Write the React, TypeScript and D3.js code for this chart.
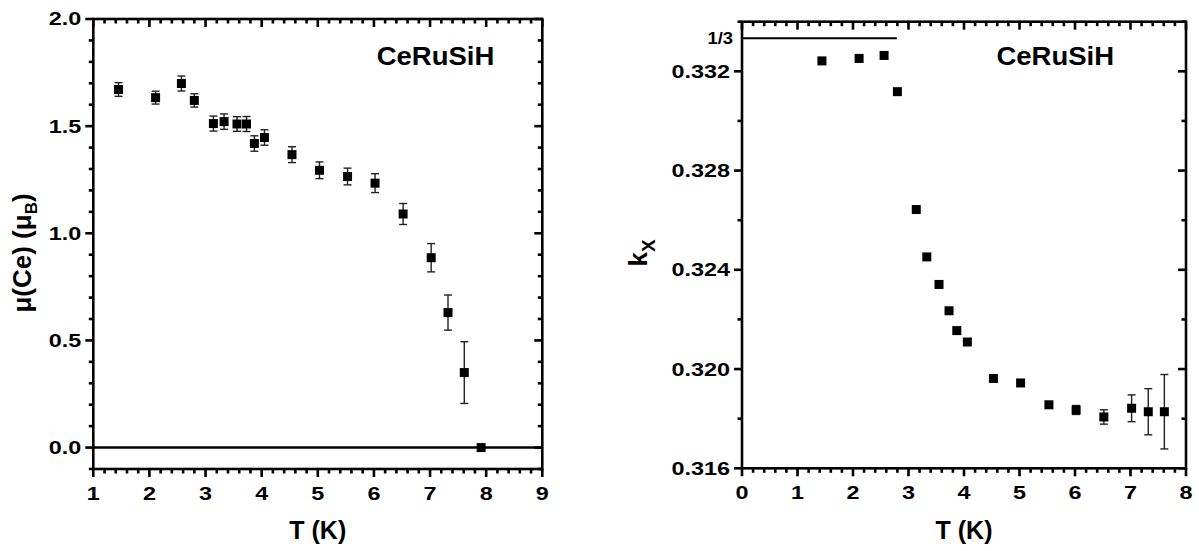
import React from "react";
import * as d3 from "d3";

// ---- Left panel data: magnetic moment of Ce vs temperature ----
const leftT = [1.45, 2.11, 2.57, 2.8, 3.14, 3.33, 3.56, 3.73, 3.87, 4.05, 4.54, 5.03, 5.53, 6.02, 6.52, 7.02, 7.32, 7.61, 7.91];
const leftMu = [1.671, 1.633, 1.699, 1.62, 1.512, 1.521, 1.51, 1.51, 1.419, 1.447, 1.367, 1.294, 1.265, 1.234, 1.09, 0.886, 0.63, 0.35, 0.0];
const leftErr = [0.032, 0.03, 0.035, 0.031, 0.035, 0.036, 0.034, 0.035, 0.036, 0.036, 0.037, 0.039, 0.039, 0.044, 0.049, 0.066, 0.082, 0.144, 0];

// ---- Right panel data: propagation vector component kx vs temperature ----
const rightT = [1.44, 2.11, 2.56, 2.8, 3.14, 3.33, 3.55, 3.73, 3.87, 4.06, 4.53, 5.02, 5.53, 6.02, 6.52, 7.02, 7.32, 7.61];
const rightK = [0.33242, 0.33252, 0.33264, 0.33118, 0.32643, 0.32452, 0.32341, 0.32235, 0.32155, 0.32109, 0.31962, 0.31944, 0.31856, 0.31835, 0.31807, 0.31842, 0.31828, 0.31828];
const rightErr = [0, 0, 0, 0, 0, 0, 0, 0, 0, 0, 0, 0, 0, 0.00018, 0.00029, 0.00054, 0.00093, 0.0015];

const leftXTicks = [1, 2, 3, 4, 5, 6, 7, 8, 9];
const leftYTicks = [0.0, 0.5, 1.0, 1.5, 2.0];
const rightXTicks = [0, 1, 2, 3, 4, 5, 6, 7, 8];
const rightYTicks = [0.316, 0.32, 0.324, 0.328, 0.332];
const sampleName = "CeRuSiH";
const oneThird = 1 / 3;
const oneThirdEndT = 2.79;

const FONT = "'Liberation Sans', Arial, Helvetica, sans-serif";
const MAJ = 8;
const MIN = 4.5;
const TW = 2.6;

function steps(a: number, b: number, step: number) {
  const n = Math.round((b - a) / step);
  const out: number[] = [];
  for (let i = 0; i <= n; i++) out.push(+(a + i * step).toFixed(6));
  return out;
}

function SText({ x, y, s, anchor, size, children, dy }: any) {
  return (
    <g transform={`translate(${x},${y}) scale(${s},1)`}>
      <text x={0} y={0} dy={dy || 0} textAnchor={anchor} fontFamily={FONT} fontWeight="bold" fontSize={size} fill="#000">
        {children}
      </text>
    </g>
  );
}

type PanelProps = {
  x: d3.ScaleLinear<number, number>;
  y: d3.ScaleLinear<number, number>;
  xMajor: number[];
  xMinor: number[];
  yMajor: number[];
  yMinor: number[];
  yFmt: (v: number) => string;
  xs: number[];
  ys: number[];
  errs: number[];
  nameRight: number;
};

function Panel({ x, y, xMajor, xMinor, yMajor, yMinor, yFmt, xs, ys, errs, nameRight }: PanelProps) {
  const [x0, x1] = x.range();
  const [yb, yt] = y.range();
  const isMaj = (arr: number[], v: number) => arr.some((m) => Math.abs(m - v) < 1e-9);
  const ms = 9;
  return (
    <g>
      {xs.map((t, i) =>
        errs[i] > 0 ? (
          <g key={"e" + i} stroke="#222" strokeWidth={1.4}>
            <line x1={x(t)} x2={x(t)} y1={y(ys[i] - errs[i])} y2={y(ys[i] + errs[i])} />
            <line x1={x(t) - 4} x2={x(t) + 4} y1={y(ys[i] - errs[i])} y2={y(ys[i] - errs[i])} />
            <line x1={x(t) - 4} x2={x(t) + 4} y1={y(ys[i] + errs[i])} y2={y(ys[i] + errs[i])} />
          </g>
        ) : null
      )}
      {xs.map((t, i) => (
        <rect key={"m" + i} x={x(t) - ms / 2} y={y(ys[i]) - ms / 2} width={ms} height={ms} fill="#000" />
      ))}
      <rect x={x0} y={yt} width={x1 - x0} height={yb - yt} fill="none" stroke="#000" strokeWidth={2.6} />
      {/* ticks as filled bars: bottom/left outward, top/right inward */}
      {xMinor.map((v, i) => {
        const L = isMaj(xMajor, v) ? MAJ : MIN;
        return (
          <g key={"xt" + i} fill="#000">
            <rect x={x(v) - TW / 2} y={yb} width={TW} height={L} />
            <rect x={x(v) - TW / 2} y={yt} width={TW} height={L} />
          </g>
        );
      })}
      {yMinor.map((v, i) => {
        const L = isMaj(yMajor, v) ? MAJ : MIN;
        return (
          <g key={"yt" + i} fill="#000">
            <rect x={x0 - L} y={y(v) - TW / 2} width={L} height={TW} />
            <rect x={x1 - L} y={y(v) - TW / 2} width={L} height={TW} />
          </g>
        );
      })}
      {xMajor.map((v, i) => (
        <SText key={"xl" + i} x={x(v)} y={yb + 31} s={1.3} anchor="middle" size={18}>
          {d3.format("d")(v)}
        </SText>
      ))}
      {yMajor.map((v, i) => (
        <SText key={"yl" + i} x={x0 - 12} y={y(v)} dy="0.36em" s={1.3} anchor="end" size={18}>
          {yFmt(v)}
        </SText>
      ))}
      <text x={(x0 + x1) / 2} y={539} textAnchor="middle" fontFamily={FONT} fontWeight="bold" fontSize={25}>
        T (K)
      </text>
      <SText x={x1 - nameRight} y={65} s={1.1} anchor="end" size={25}>
        {sampleName}
      </SText>
    </g>
  );
}

const xL = d3.scaleLinear().domain([1, 9]).range([93.3, 542.3]);
const yL = d3.scaleLinear().domain([-0.1, 2.0]).range([469, 19]);
const xR = d3.scaleLinear().domain([0, 8]).range([742, 1186]);
const yR = d3.scaleLinear().domain([0.316, 0.334]).range([468.3, 21.7]);
const lxMinor = steps(1, 9, 0.2);
const lyMinor = steps(-0.1, 2.0, 0.1);
const rxMinor = steps(0, 8, 0.2);
const ryMinor = steps(0.316, 0.334, 0.002);

export default function App() {
  return (
    <svg width={1199} height={551} style={{ position: "absolute", left: 0, top: 0, background: "#fff" }}>
      <rect width={1199} height={551} fill="#fff" />
      <line x1={xL(1)} x2={xL(9)} y1={yL(0)} y2={yL(0)} stroke="#000" strokeWidth={2.6} />
      <Panel
        x={xL}
        y={yL}
        xMajor={leftXTicks}
        xMinor={lxMinor}
        yMajor={leftYTicks}
        yMinor={lyMinor}
        yFmt={d3.format(".1f")}
        xs={leftT}
        ys={leftMu}
        errs={leftErr}
        nameRight={48}
      />
      <text transform="translate(31,253) rotate(-90)" textAnchor="middle" fontFamily={FONT} fontWeight="bold" fontSize={26}>
        μ(Ce) (μ<tspan fontSize={17} dy={6}>B</tspan>
        <tspan dy={-6}>)</tspan>
      </text>

      <line x1={xR(0)} x2={xR(oneThirdEndT)} y1={yR(oneThird)} y2={yR(oneThird)} stroke="#000" strokeWidth={2} />
      <SText x={733} y={yR(oneThird)} dy="0.36em" s={1.15} anchor="end" size={16}>
        1/3
      </SText>
      <Panel
        x={xR}
        y={yR}
        xMajor={rightXTicks}
        xMinor={rxMinor}
        yMajor={rightYTicks}
        yMinor={ryMinor}
        yFmt={d3.format(".3f")}
        xs={rightT}
        ys={rightK}
        errs={rightErr}
        nameRight={72}
      />
      <text transform="translate(647,253) rotate(-90)" textAnchor="middle" fontFamily={FONT} fontWeight="bold" fontSize={26}>
        k<tspan fontSize={19} dy={8}>X</tspan>
      </text>
    </svg>
  );
}
